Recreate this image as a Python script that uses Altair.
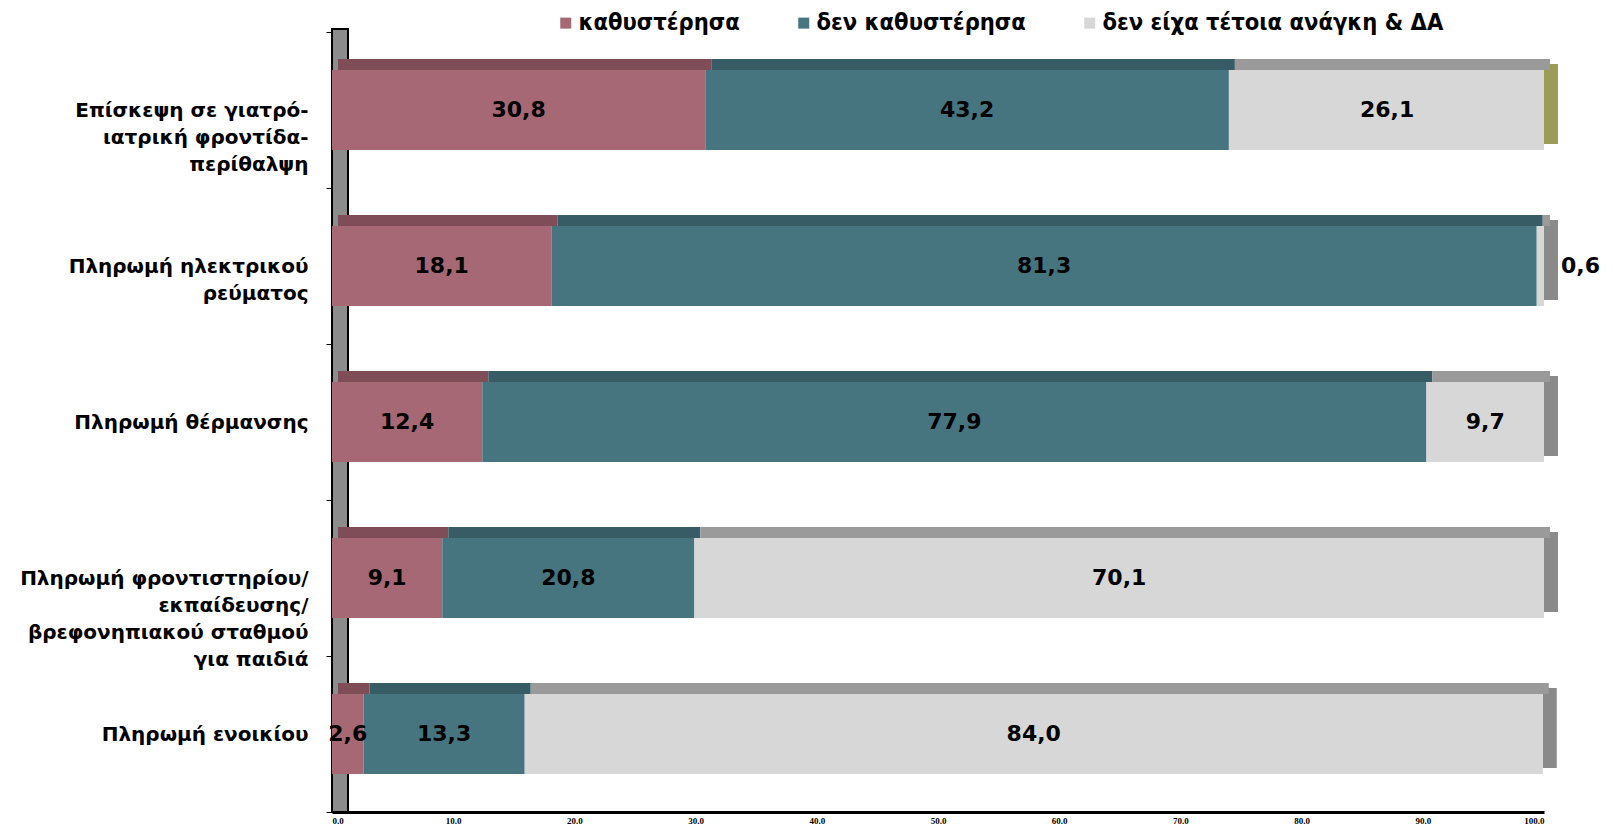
import altair as alt
import pandas as pd

categories = [
    "Επίσκεψη σε γιατρό-|ιατρική φροντίδα-|περίθαλψη",
    "Πληρωμή ηλεκτρικού|ρεύματος",
    "Πληρωμή θέρμανσης",
    "Πληρωμή φροντιστηρίου/|εκπαίδευσης/|βρεφονηπιακού σταθμού|για παιδιά",
    "Πληρωμή ενοικίου",
]
series = ["καθυστέρησα", "δεν καθυστέρησα", "δεν είχα τέτοια ανάγκη & ΔΑ"]
late = [30.8, 18.1, 12.4, 9.1, 2.6]
not_late = [43.2, 81.3, 77.9, 20.8, 13.3]
no_need = [26.1, 0.6, 9.7, 70.1, 84.0]
x_ticks = [0, 10, 20, 30, 40, 50, 60, 70, 80, 90, 100]

front_colors = ["#A66874", "#46747F", "#D7D7D7"]
top_colors = ["#7E4D57", "#375C65", "#9A9A9A"]

rows = []
for i, cat in enumerate(categories):
    start = 0.0
    for k, vals in enumerate([late, not_late, no_need]):
        v = vals[i]
        rows.append({"cat": cat, "series": series[k], "order": k,
                     "value": v, "start": start, "end": start + v,
                     "mid": start + v / 2})
        start += v
df = pd.DataFrame(rows)

W, H = 1212, 780
BAR = 80

base = alt.Chart(df)
yenc = alt.Y("cat:N", sort=categories, scale=alt.Scale(paddingInner=0, paddingOuter=0),
             axis=alt.Axis(title=None, labelExpr="split(datum.label, '|')",
                           labelFont="DejaVu Sans", labelFontWeight="bold", labelFontSize=20,
                           labelLineHeight=27, labelColor="black", labelAlign="right",
                           labelPadding=18, tickBand="extent", tickSize=6, tickColor="black",
                           tickWidth=1, domain=False, labelLimit=400))
xscale = alt.Scale(domain=[0, 100], nice=False, clamp=True)

wall = alt.Chart(pd.DataFrame({"z": [0]})).mark_rect(
    fill="#8C8C8C", stroke="black", strokeWidth=2, x2Offset=16
).encode(x=alt.X("z:Q", scale=xscale), x2="z:Q", y=alt.value(-3), y2=alt.value(H))

bars = base.mark_bar(size=BAR).encode(
    x=alt.X("start:Q", scale=xscale,
            axis=alt.Axis(title=None, values=x_ticks, format=".1f", labelFont="Liberation Serif",
                          labelFontWeight="bold", labelFontSize=9, labelColor="black",
                          ticks=False, labelPadding=4, domainColor="black", domainWidth=3,
                          grid=False)),
    x2="end:Q",
    y=yenc,
    color=alt.Color("series:N", sort=series,
                    scale=alt.Scale(domain=series, range=front_colors),
                    legend=alt.Legend(title=None, orient="none", direction="horizontal",
                                      legendX=222, legendY=-21, symbolType="square",
                                      symbolSize=121, symbolStrokeWidth=0, columnPadding=52,
                                      labelOffset=1,
                                      labelFont="DejaVu Sans Condensed, Liberation Sans",
                                      labelFontWeight="bold",
                                      labelFontSize=23.5, labelColor="black", labelLimit=500)),
    order=alt.Order("order:Q"),
)

tops = base.mark_bar(size=11, yOffset=-(BAR / 2 + 5.5), xOffset=6, x2Offset=6).encode(
    x=alt.X("start:Q", scale=xscale), x2="end:Q",
    y=alt.Y("cat:N", sort=categories),
    color=alt.Color("series:N", scale=alt.Scale(domain=series, range=top_colors), legend=None),
)

sides = base.transform_filter(alt.datum.order == 2).mark_bar(
    size=BAR, yOffset=-6, x2Offset=14
).encode(
    x=alt.X("end:Q", scale=xscale), x2="end:Q",
    y=alt.Y("cat:N", sort=categories),
    color=alt.condition(alt.datum.cat == categories[0], alt.value("#9C9C5A"), alt.value("#8A8A8A")),
)

labels = base.transform_filter(alt.datum.value >= 1).transform_calculate(
    txt="replace(format(datum.value, '.1f'), '.', ',')"
).mark_text(font="DejaVu Sans", fontWeight="bold", fontSize=22, color="black",
            baseline="middle").encode(
    x=alt.X("mid:Q", scale=xscale), y=alt.Y("cat:N", sort=categories), text="txt:N")

small = base.transform_filter(alt.datum.value < 1).transform_calculate(
    txt="replace(format(datum.value, '.1f'), '.', ',')"
).mark_text(font="DejaVu Sans", fontWeight="bold", fontSize=22, color="black",
            baseline="middle", align="left", dx=17).encode(
    x=alt.X("end:Q", scale=xscale), y=alt.Y("cat:N", sort=categories), text="txt:N")

chart = alt.layer(wall, sides, tops, bars, labels, small).resolve_scale(
    color="independent"
).properties(
    width=W, height=H,
    autosize=alt.AutoSizeParams(type="none"),
    padding={"left": 324, "top": 24, "right": 62, "bottom": 15},
).configure_view(stroke=None)

chart.save("out.html", embed_options={"renderer": "svg", "actions": False})
